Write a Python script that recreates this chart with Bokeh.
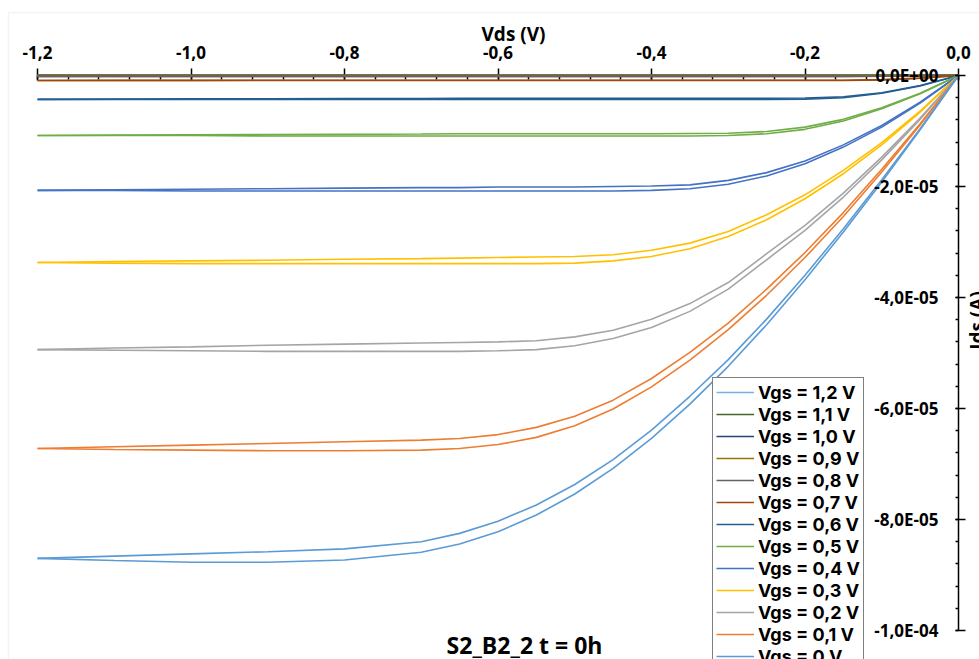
import math
from bokeh.plotting import figure
from bokeh.models import (Range1d, LinearAxis, FixedTicker, CustomJSTickFormatter,
                          Legend, LegendItem, Label, BoxAnnotation)
from bokeh.embed import file_html
from bokeh.resources import INLINE

# ---------------- data (Ids in microampere, converted to A when plotted) ----------------
vds = [-1.2, -1.1, -1.0, -0.9, -0.8, -0.7, -0.65, -0.6, -0.55, -0.5,
       -0.45, -0.4, -0.35, -0.3, -0.25, -0.2, -0.15, -0.1, -0.05, 0.0]

ids_00_a = [-87.0, -87.4, -87.7, -87.7, -87.3, -85.9, -84.4, -82.2, -79.2, -75.4,
            -70.8, -65.4, -59.2, -52.4, -44.9, -36.8, -28.2, -19.2, -9.8, 0.0]
ids_00_b = [-87.0, -86.6, -86.2, -85.8, -85.3, -84.0, -82.5, -80.3, -77.4, -73.7,
            -69.2, -63.9, -57.8, -51.2, -43.9, -36.0, -27.6, -18.8, -9.6, 0.0]
ids_01_a = [-67.2, -67.4, -67.5, -67.6, -67.6, -67.5, -67.2, -66.5, -65.2, -63.1,
            -60.1, -56.1, -51.3, -45.8, -39.6, -32.8, -25.4, -17.4, -8.9, 0.0]
ids_01_b = [-67.2, -66.9, -66.6, -66.3, -66.0, -65.7, -65.4, -64.7, -63.4, -61.4,
            -58.5, -54.6, -49.9, -44.6, -38.5, -31.9, -24.7, -16.9, -8.7, 0.0]
ids_02_a = [-49.4, -49.5, -49.6, -49.7, -49.7, -49.7, -49.7, -49.6, -49.4, -48.7,
            -47.4, -45.4, -42.5, -38.5, -33.2, -27.9, -21.9, -15.2, -7.9, 0.0]
ids_02_b = [-49.4, -49.1, -48.9, -48.6, -48.4, -48.2, -48.1, -48.0, -47.8, -47.1,
            -45.9, -43.9, -41.1, -37.3, -32.1, -27.0, -21.2, -14.7, -7.65, 0.0]
ids_03_a = [-33.7, -33.8, -33.9, -33.9, -33.9, -33.9, -33.9, -33.9, -33.9, -33.8,
            -33.4, -32.6, -31.2, -29.0, -26.0, -22.2, -17.7, -12.5, -6.6, 0.0]
ids_03_b = [-33.7, -33.5, -33.4, -33.3, -33.1, -33.0, -32.9, -32.8, -32.7, -32.6,
            -32.3, -31.5, -30.2, -28.1, -25.1, -21.5, -17.1, -12.1, -6.4, 0.0]
ids_04_a = [-20.7, -20.7, -20.8, -20.8, -20.8, -20.8, -20.8, -20.8, -20.8, -20.8,
            -20.8, -20.7, -20.4, -19.6, -18.1, -15.9, -12.9, -9.3, -4.97, 0.0]
ids_04_b = [-20.7, -20.6, -20.5, -20.4, -20.3, -20.2, -20.2, -20.1, -20.1, -20.1,
            -20.0, -19.9, -19.7, -18.9, -17.5, -15.4, -12.5, -9.0, -4.8, 0.0]
ids_05_a = [-10.8, -10.8, -10.8, -10.9, -10.9, -10.9, -10.9, -10.9, -10.9, -10.9,
            -10.9, -10.9, -10.9, -10.8, -10.5, -9.7, -8.2, -6.0, -3.3, 0.0]
ids_05_b = [-10.8, -10.75, -10.7, -10.65, -10.6, -10.55, -10.5, -10.5, -10.5, -10.5,
            -10.5, -10.5, -10.45, -10.4, -10.1, -9.3, -7.9, -5.8, -3.2, 0.0]
ids_06_a = [-4.3, -4.3, -4.3, -4.3, -4.3, -4.3, -4.3, -4.3, -4.3, -4.3,
            -4.3, -4.3, -4.3, -4.3, -4.3, -4.25, -4.0, -3.2, -1.9, 0.0]
ids_06_b = [-4.3, -4.25, -4.2, -4.2, -4.15, -4.15, -4.1, -4.1, -4.1, -4.1,
            -4.1, -4.1, -4.1, -4.1, -4.1, -4.05, -3.85, -3.1, -1.8, 0.0]
ids_07_a = [-0.9, -0.9, -0.9, -0.9, -0.9, -0.9, -0.9, -0.9, -0.9, -0.9,
            -0.9, -0.9, -0.9, -0.9, -0.9, -0.9, -0.9, -0.8, -0.5, 0.0]
ids_07_b = [-0.9, -0.88, -0.87, -0.86, -0.86, -0.85, -0.85, -0.85, -0.85, -0.85,
            -0.85, -0.85, -0.85, -0.85, -0.85, -0.85, -0.85, -0.75, -0.47, 0.0]
ids_08_a = [-0.15, -0.15, -0.15, -0.15, -0.15, -0.15, -0.15, -0.15, -0.15, -0.15,
            -0.15, -0.15, -0.15, -0.15, -0.15, -0.15, -0.15, -0.14, -0.1, 0.0]
ids_08_b = ids_08_a
ids_09_a = [-0.03] * 18 + [-0.02, 0.0]
ids_09_b = ids_09_a
ids_10_a = [-0.01] * 18 + [-0.01, 0.0]
ids_10_b = ids_10_a
ids_11_a = [-0.005] * 18 + [-0.003, 0.0]
ids_11_b = ids_11_a
ids_12_a = [0.0] * 20
ids_12_b = ids_12_a

vgs_labels = ["Vgs = 1,2 V", "Vgs = 1,1 V", "Vgs = 1,0 V", "Vgs = 0,9 V", "Vgs = 0,8 V",
              "Vgs = 0,7 V", "Vgs = 0,6 V", "Vgs = 0,5 V", "Vgs = 0,4 V", "Vgs = 0,3 V",
              "Vgs = 0,2 V", "Vgs = 0,1 V", "Vgs = 0 V"]
vgs_colors = ["#7CAFDD", "#43682B", "#264478", "#997300", "#636363",
              "#9E480E", "#255E91", "#70AD47", "#4472C4", "#FFC000",
              "#A5A5A5", "#ED7D31", "#5B9BD5"]
vgs_curves = [(ids_12_a, ids_12_b), (ids_11_a, ids_11_b), (ids_10_a, ids_10_b),
              (ids_09_a, ids_09_b), (ids_08_a, ids_08_b), (ids_07_a, ids_07_b),
              (ids_06_a, ids_06_b), (ids_05_a, ids_05_b), (ids_04_a, ids_04_b),
              (ids_03_a, ids_03_b), (ids_02_a, ids_02_b), (ids_01_a, ids_01_b),
              (ids_00_a, ids_00_b)]

x_ticks = [-1.2, -1.0, -0.8, -0.6, -0.4, -0.2, 0.0]
x_minor = [round(-1.2 + 0.04 * i, 2) for i in range(31)]
y_ticks = [0.0, -2e-5, -4e-5, -6e-5, -8e-5, -1e-4]
y_minor = [-4e-6 * i for i in range(26)]

title_text = "S2_B2_2 t = 0h"
x_title = "Vds (V)"
y_title = "Ids (A)"

# ---------------- layout ----------------
W, H = 979, 659
X0_PX, X1_PX = 37.0, 958.0     # pixel of Vds=-1.2 and Vds=0
Y0_PX, YM_PX = 75.0, 630.0     # pixel of Ids=0 and Ids=-1e-4
xs = 1.2 / (X1_PX - X0_PX)     # V per px
ys = 1e-4 / (YM_PX - Y0_PX)    # A per px

def xd(px):
    return -1.2 + (px - X0_PX) * xs

def yd(py):
    return -(py - Y0_PX) * ys

FONT = "Open Sans"
LEG_FONT = "Inter"

p = figure(width=W, height=H, x_range=Range1d(xd(0), xd(W)), y_range=Range1d(yd(H), yd(0)),
           x_axis_location=None, y_axis_location=None, toolbar_location=None,
           output_backend="svg", min_border=0, outline_line_color=None,
           background_fill_color="white", border_fill_color="white")
p.grid.visible = False

# chart area border (light gray)
p.add_layout(BoxAnnotation(left=xd(8), top=yd(12), right=10, bottom=-1,
                           fill_color=None, fill_alpha=0, line_color="#D9D9D9",
                           line_width=1.5, level="underlay"))

xfmt = CustomJSTickFormatter(code="return tick.toFixed(1).replace('.', ',');")
yfmt = CustomJSTickFormatter(code="""
if (Math.abs(tick) < 1e-15) { return "0,0E+00"; }
const e = Math.floor(Math.log10(Math.abs(tick)) + 1e-9);
const m = tick / Math.pow(10, e);
const es = (e < 0 ? "-" : "+") + String(Math.abs(e)).padStart(2, "0");
return m.toFixed(1).replace(".", ",") + "E" + es;
""")

xaxis = LinearAxis(fixed_location=0, bounds=(-1.2, 0.0),
                   ticker=FixedTicker(ticks=x_ticks, minor_ticks=x_minor), formatter=xfmt,
                   major_tick_out=7, major_tick_in=5, minor_tick_out=0, minor_tick_in=4,
                   major_label_standoff=10, axis_line_color="black", axis_line_width=1.5,
                   major_tick_line_color="black", major_tick_line_width=1.5,
                   minor_tick_line_color="black", minor_tick_line_width=1.5,
                   major_label_text_font=FONT, major_label_text_font_style="bold",
                   major_label_text_font_size="17px", major_label_text_color="black",
                   level="underlay")
p.add_layout(xaxis, "above")

yaxis = LinearAxis(fixed_location=0, bounds=(-1e-4, 0.0),
                   ticker=FixedTicker(ticks=y_ticks, minor_ticks=y_minor), formatter=yfmt,
                   major_tick_out=3, major_tick_in=7, minor_tick_out=3, minor_tick_in=0,
                   major_label_standoff=17, axis_line_color="black", axis_line_width=1.5,
                   major_tick_line_color="black", major_tick_line_width=1.5,
                   minor_tick_line_color="black", minor_tick_line_width=1.5,
                   major_label_text_font=FONT, major_label_text_font_style="bold",
                   major_label_text_font_size="17px", major_label_text_color="black")
p.add_layout(yaxis, "left")

# curves: drawn from Vgs=1.2 V to 0 V (so low Vgs lie on top)
items = []
for lab, col, (ca, cb) in zip(vgs_labels, vgs_colors, vgs_curves):
    rb = p.line(vds, [v * 1e-6 for v in cb], line_color=col, line_width=1.6)
    ra = p.line(vds, [v * 1e-6 for v in ca], line_color=col, line_width=1.6)
    items.append(LegendItem(label=lab, renderers=[ra]))

legend = Legend(items=items, location=(712, -12),
                glyph_width=38, glyph_height=22, label_height=22, label_standoff=4,
                spacing=0, padding=3, margin=0,
                border_line_color="black", border_line_width=1,
                background_fill_color="white", background_fill_alpha=1.0,
                label_text_font=LEG_FONT, label_text_font_style="bold",
                label_text_font_size="18px", label_text_color="black")
p.add_layout(legend)

p.add_layout(Label(x=xd(513), y=yd(33), text=x_title, text_font=FONT, text_font_style="bold",
                   text_font_size="19px", text_align="center", text_baseline="middle",
                   text_color="black"))
p.add_layout(Label(x=xd(963), y=yd(320), text=y_title, text_font=FONT, text_font_style="bold",
                   text_font_size="19px", text_align="center", text_baseline="top",
                   angle=math.pi / 2, text_color="black"))
p.add_layout(Label(x=xd(524), y=yd(644), text=title_text, text_font=FONT,
                   text_font_style="bold", text_font_size="23px", text_align="center",
                   text_baseline="middle", text_color="black"))

open("out.html", "w").write(file_html(p, INLINE))
